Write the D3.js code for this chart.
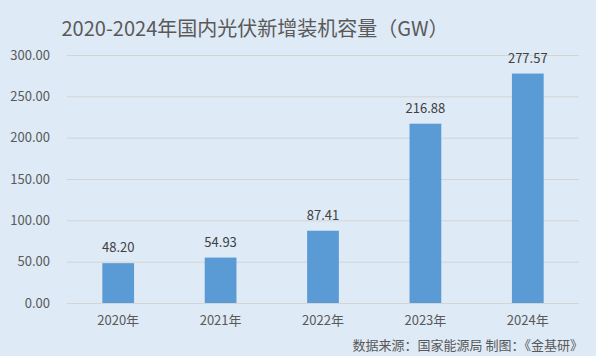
<!DOCTYPE html>
<html><head><meta charset="utf-8">
<script src="https://cdn.jsdelivr.net/npm/d3@7"></script>
<style>body{margin:0;background:#deeaf6}svg{display:block}</style>
</head><body><svg id="c" width="596" height="356"></svg>
<script>
const categories = ["2020年","2021年","2022年","2023年","2024年"];
const values = [48.20, 54.93, 87.41, 216.88, 277.57];
const yTicks = [0, 50, 100, 150, 200, 250, 300];
const title = "2020-2024年国内光伏新增装机容量（GW）";
const source = "数据来源：国家能源局 制图：《金基研》";

(function(){
const font = "'Microsoft YaHei','Noto Sans CJK SC','Noto Sans',sans-serif";
const svg = d3.select("#c");
svg.append("rect").attr("width",596).attr("height",356).attr("fill","#deeaf6");
const L = 67, R = 579, T = 55, B = 303;
const x = d3.scaleBand().domain(categories).range([L,R]).paddingInner(0.69).paddingOuter(0.345);
const y = d3.scaleLinear().domain([0,300]).range([B,T]);

const ya = svg.append("g").attr("transform",`translate(${L},0)`)
  .call(d3.axisLeft(y).tickValues(yTicks).tickSize(-(R-L)).tickFormat(d3.format(".2f")).tickPadding(17));
ya.select(".domain").remove();
ya.selectAll("line").attr("stroke","#d4d4d4");
ya.selectAll("text").attr("fill","#595959").style("font-family",font).style("font-size","13px");

svg.selectAll("rect.bar").data(values).join("rect").attr("class","bar")
  .attr("x",(d,i)=>x(categories[i])).attr("width",x.bandwidth())
  .attr("y",d=>y(d)).attr("height",d=>y(0)-y(d)).attr("fill","#5b9bd5");

svg.selectAll("text.val").data(values).join("text").attr("class","val")
  .attr("x",(d,i)=>x(categories[i])+x.bandwidth()/2).attr("y",d=>y(d)-11)
  .attr("text-anchor","middle").attr("fill","#404040").style("font-family",font).style("font-size","13px")
  .text(d=>d3.format(".2f")(d));

const xa = svg.append("g").attr("transform",`translate(0,${B})`)
  .call(d3.axisBottom(x).tickSize(0).tickPadding(13));
xa.select(".domain").remove();
xa.selectAll("text").attr("fill","#595959").style("font-family",font).style("font-size","13px");

svg.append("text").attr("x",255).attr("y",36).attr("text-anchor","middle")
  .attr("fill","#595959").style("font-family",font).style("font-size","20px").text(title);
svg.append("text").attr("x",583).attr("y",350).attr("text-anchor","end")
  .attr("fill","#595959").style("font-family",font).style("font-size","13px").text(source);
})();
</script></body></html>
